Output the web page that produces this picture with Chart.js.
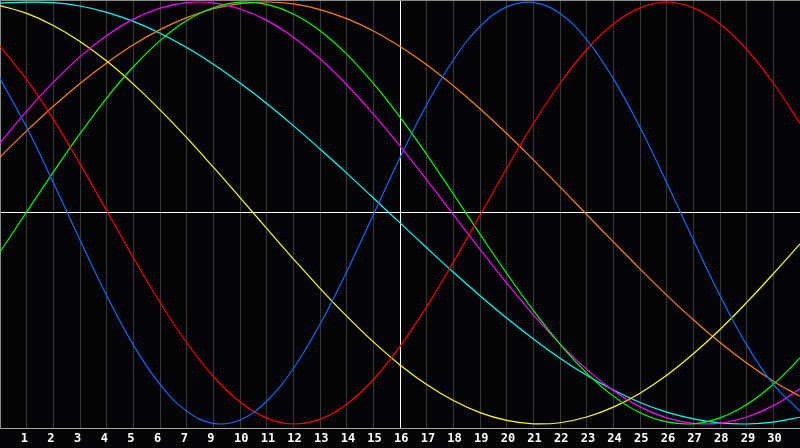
<!DOCTYPE html>
<html>
<head>
<meta charset="utf-8">
<script src="https://cdn.jsdelivr.net/npm/chart.js@4/dist/chart.umd.min.js"></script>
<style>
  html, body { margin: 0; padding: 0; background: #050507; }
  #wrap { width: 800px; height: 448px; }
</style>
</head>
<body>
<div id="wrap"><canvas id="bioChart"></canvas></div>
<script>
// positions along the strip, one per day column (0 = left edge, 30 = right edge)
const dayPos = [0, 1, 2, 3, 4, 5, 6, 7, 8, 9, 10, 11, 12, 13, 14, 15, 16, 17, 18, 19, 20, 21, 22, 23, 24, 25, 26, 27, 28, 29, 30];

// date labels under the grid lines 1..29 (the 8th is missing in the original)
const gridPos = [1, 2, 3, 4, 5, 6, 7, 8, 9, 10, 11, 12, 13, 14, 15, 16, 17, 18, 19, 20, 21, 22, 23, 24, 25, 26, 27, 28, 29];
const tickLabels = ['1', '2', '3', '4', '5', '6', '7', '9', '10', '11', '12', '13', '14', '15', '16', '17', '18', '19', '20', '21', '22', '23', '24', '25', '26', '27', '28', '29', '30'];
const todayPos = 15;

const physical = [0.637, 0.406, 0.144, -0.128, -0.391, -0.625, -0.812, -0.939, -0.997, -0.981, -0.892, -0.737, -0.527, -0.278, -0.008, 0.262, 0.513, 0.725, 0.884, 0.977, 0.998, 0.945, 0.822, 0.637, 0.406, 0.144, -0.128, -0.391, -0.625, -0.812, -0.939];
const emotional = [0.789, 0.632, 0.444, 0.233, 0.011, -0.212, -0.424, -0.615, -0.775, -0.896, -0.972, -1.0, -0.977, -0.906, -0.789, -0.632, -0.444, -0.233, -0.011, 0.212, 0.424, 0.615, 0.775, 0.896, 0.972, 1.0, 0.972, 0.896, 0.775, 0.615, 0.424];
const intellectual = [-0.185, 0.005, 0.194, 0.376, 0.545, 0.693, 0.817, 0.912, 0.973, 0.999, 0.989, 0.943, 0.864, 0.753, 0.614, 0.454, 0.277, 0.09, -0.1, -0.286, -0.462, -0.622, -0.759, -0.868, -0.947, -0.99, -0.999, -0.971, -0.908, -0.812, -0.687];
const intuitive = [0.332, 0.483, 0.62, 0.741, 0.841, 0.919, 0.971, 0.997, 0.996, 0.967, 0.913, 0.833, 0.731, 0.608, 0.469, 0.317, 0.157, -0.008, -0.172, -0.332, -0.483, -0.62, -0.741, -0.841, -0.919, -0.971, -0.997, -0.996, -0.967, -0.913, -0.833];
const aesthetic = [0.983, 0.946, 0.889, 0.813, 0.72, 0.611, 0.489, 0.357, 0.217, 0.073, -0.073, -0.217, -0.357, -0.489, -0.611, -0.72, -0.813, -0.889, -0.946, -0.983, -0.999, -0.994, -0.967, -0.92, -0.854, -0.769, -0.667, -0.552, -0.424, -0.288, -0.146];
const awareness = [0.265, 0.389, 0.506, 0.614, 0.711, 0.797, 0.869, 0.926, 0.968, 0.992, 1.0, 0.991, 0.964, 0.921, 0.863, 0.789, 0.703, 0.603, 0.494, 0.377, 0.252, 0.124, -0.007, -0.137, -0.265, -0.389, -0.506, -0.614, -0.711, -0.797, -0.869];
const spiritual = [0.995, 0.999, 0.997, 0.981, 0.951, 0.908, 0.852, 0.784, 0.705, 0.616, 0.519, 0.414, 0.303, 0.189, 0.071, -0.047, -0.165, -0.281, -0.392, -0.498, -0.597, -0.688, -0.769, -0.839, -0.898, -0.944, -0.976, -0.995, -1.0, -0.991, -0.968];

const yMin = -1.019;
const yMax = 1.0095;

function series(values, color) {
  return {
    data: values.map((v, i) => ({ x: dayPos[i], y: v })),
    borderColor: color,
    borderWidth: 1.2,
    pointRadius: 0,
    tension: 0.4,
    fill: false
  };
}

const ctx = document.getElementById('bioChart').getContext('2d');

new Chart(ctx, {
  type: 'line',
  data: {
    datasets: [
      series(physical, '#0a6cff'),
      series(emotional, '#ff0000'),
      series(intellectual, '#00ff00'),
      series(intuitive, '#ff00ff'),
      series(aesthetic, '#ffff00'),
      series(awareness, '#ff8000'),
      series(spiritual, '#00ffff')
    ]
  },
  options: {
    responsive: true,
    maintainAspectRatio: false,
    animation: false,
    events: [],
    layout: { padding: 0 },
    plugins: {
      legend: { display: false },
      tooltip: { enabled: false }
    },
    scales: {
      x: {
        type: 'linear',
        min: 0,
        max: 30,
        afterBuildTicks: scale => {
          scale.ticks = gridPos.map(v => ({ value: v }));
        },
        afterFit: scale => { scale.height = 20; },
        grid: {
          drawTicks: false,
          color: c => (c.tick && c.tick.value === todayPos) ? '#ffffff' : '#383838',
          lineWidth: 1
        },
        border: { display: true, color: '#a8a8a8', width: 1 },
        ticks: {
          autoSkip: false,
          maxRotation: 0,
          align: 'start',
          labelOffset: -6,
          padding: 4,
          color: '#ffffff',
          font: { family: 'DejaVu Sans Mono', size: 12, weight: 'bold' },
          callback: (value, index) => tickLabels[index]
        }
      },
      y: {
        type: 'linear',
        min: yMin,
        max: yMax,
        afterBuildTicks: scale => {
          scale.ticks = [{ value: 0 }, { value: yMax }];
        },
        grid: {
          drawTicks: false,
          color: c => (c.tick && c.tick.value === 0) ? '#ffffff' : '#8a8a8a',
          lineWidth: 1
        },
        border: { display: true, color: '#8a8a8a', width: 1 },
        ticks: { display: false }
      }
    }
  }
});
</script>
</body>
</html>
